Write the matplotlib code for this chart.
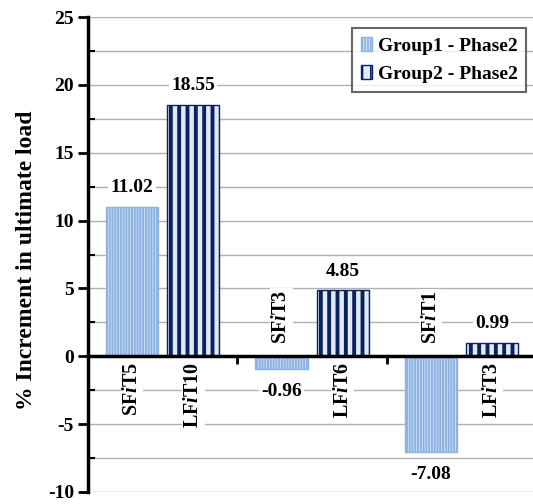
import numpy as np
import matplotlib; matplotlib.use("Agg")
import matplotlib.pyplot as plt
from matplotlib.ticker import MultipleLocator

plt.rcParams["font.family"] = ["Liberation Serif", "DejaVu Serif"]
plt.rcParams["font.weight"] = "bold"
plt.rcParams["mathtext.fontset"] = "custom"
plt.rcParams["mathtext.rm"] = "Liberation Serif:bold"
plt.rcParams["mathtext.it"] = "Liberation Serif:italic:bold"
plt.rcParams["hatch.linewidth"] = 1.2
plt.rcParams["axes.unicode_minus"] = False

series = ["Group1 - Phase2", "Group2 - Phase2"]
group1 = [11.02, -0.96, -7.08]
group2 = [18.55, 4.85, 0.99]
labels1 = ["SF$\\mathit{i}$T5", "SF$\\mathit{i}$T3", "SF$\\mathit{i}$T1"]
labels2 = ["LF$\\mathit{i}$T10", "LF$\\mathit{i}$T6", "LF$\\mathit{i}$T3"]

fig = plt.figure(figsize=(5.33, 5.04), dpi=100)
ax = fig.add_axes([0.165, 0.024, 0.838, 0.942])

x = np.arange(len(group1))
off, w = 0.205, 0.35
styles = [dict(facecolor="#d6e3f5", edgecolor="#8cb2e2", hatch="||||||", hlw=1.4),
          dict(facecolor="#e2eaf6", edgecolor="#0b2160", hatch="||", hlw=2.8)]
handles = []
for k, (vals, labs, st) in enumerate([(group1, labels1, styles[0]), (group2, labels2, styles[1])]):
    xs = x + (off if k else -off)
    bars = ax.bar(xs, vals, w, facecolor=st["facecolor"], edgecolor=st["edgecolor"],
                  hatch=st["hatch"], linewidth=1.0, zorder=3, label=series[k])
    for b in bars:
        if hasattr(b, "set_hatch_linewidth"):
            b.set_hatch_linewidth(st["hlw"])
    handles.append(bars)
    for xi, v, lab in zip(xs, vals, labs):
        ax.annotate(f"{v:.2f}", (xi, v), xytext=(0, 14 if v > 0 else -16),
                    textcoords="offset points", ha="center", va="center",
                    fontsize=14, fontweight="bold", zorder=4,
                    bbox=dict(facecolor="white", edgecolor="none", pad=1.5))
        up = v < 0
        ax.annotate(lab, (xi, 0), xytext=(0, 9 if up else -4), textcoords="offset points",
                    ha="center", va="bottom" if up else "top", rotation=90,
                    fontsize=14.5, fontweight="bold", zorder=4,
                    bbox=dict(facecolor="white", edgecolor="none", pad=1.0))

ax.set_ylim(-10, 25)
ax.set_xlim(-0.5, 2.49)
ax.yaxis.set_major_locator(MultipleLocator(5))
ax.yaxis.set_minor_locator(MultipleLocator(2.5))
ax.grid(axis="y", which="both", color="#b0b0b0", lw=1.0, zorder=0)
ax.set_xticks([0.5, 1.5])
ax.set_xticklabels([])
ax.tick_params(axis="x", direction="out", length=6, width=2)
ax.tick_params(axis="y", which="major", direction="out", length=7, width=2, labelsize=14, pad=3)
ax.tick_params(axis="y", which="minor", direction="in", length=5, width=1.5)
for t in ax.get_yticklabels():
    t.set_fontweight("bold")
ax.spines["top"].set_visible(False)
ax.spines["right"].set_visible(False)
ax.spines["left"].set_linewidth(2.5)
ax.spines["bottom"].set_position(("data", 0))
ax.spines["bottom"].set_linewidth(2.5)
ax.spines["bottom"].set_zorder(5)
ax.set_ylabel("% Increment in ultimate load", fontsize=17, fontweight="bold")
ax.yaxis.set_label_coords(-0.115, 0.487)

leg = ax.legend(handles=handles, loc="upper right", bbox_to_anchor=(0.99, 0.985),
                fontsize=14, frameon=True, fancybox=False, handlelength=0.55,
                handleheight=0.7, handletextpad=0.3, borderpad=0.45, labelspacing=0.55,
                borderaxespad=0.2)
leg.get_frame().set_edgecolor("#404040")
leg.get_frame().set_linewidth(1.5)
for t in leg.get_texts():
    t.set_fontweight("bold")

fig.savefig("out.png", dpi=100, facecolor="white")
